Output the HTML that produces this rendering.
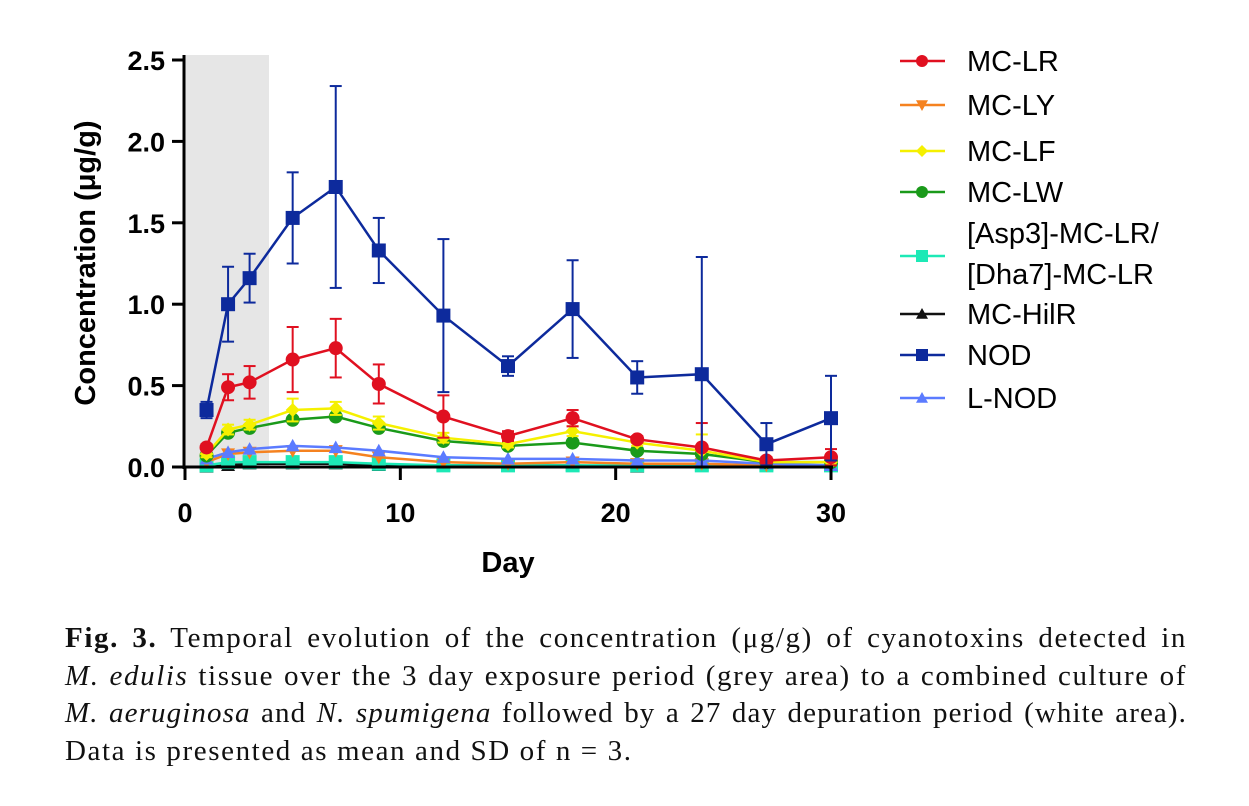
<!DOCTYPE html>
<html><head><meta charset="utf-8"><style>
body{margin:0;background:#fff;width:1249px;height:806px;overflow:hidden}
svg{display:block}
.cap{position:absolute;left:65px;top:620px;width:1122px;font-family:"Liberation Serif",serif;font-size:29px;letter-spacing:1.6px;line-height:37.5px;color:#111}
.cap div{text-align:justify;text-align-last:justify;white-space:nowrap}
.cap div.l3{letter-spacing:1.1px}
.cap div.last{text-align-last:left}
</style></head><body>
<svg id="chart" width="1249" height="620" xmlns="http://www.w3.org/2000/svg" font-family="Liberation Sans, sans-serif"></svg>
<div class="cap">
<div><b>Fig. 3.</b> Temporal evolution of the concentration (μg/g) of cyanotoxins detected in</div>
<div><i>M. edulis</i> tissue over the 3 day exposure period (grey area) to a combined culture of</div>
<div class="l3"><i>M. aeruginosa</i> and <i>N. spumigena</i> followed by a 27 day depuration period (white area).</div>
<div class="last">Data is presented as mean and SD of n = 3.</div>
</div>
<script>
const days=[1,2,3,5,7,9,12,15,18,21,24,27,30];
const xTicks=[0,10,20,30];
const yTicks=[0,0.5,1.0,1.5,2.0,2.5];
const seriesNames=["MC-LR","MC-LY","MC-LF","MC-LW","[Asp3]-MC-LR/[Dha7]-MC-LR","MC-HilR","NOD","L-NOD"];
const mcLR=[0.12,0.49,0.52,0.66,0.73,0.51,0.31,0.19,0.30,0.17,0.12,0.04,0.06];
const mcLRsd=[0.02,0.08,0.1,0.2,0.18,0.12,0.13,0.03,0.05,0.02,0.15,0.02,0.05];
const mcLY=[0.03,0.08,0.09,0.10,0.10,0.06,0.03,0.02,0.03,0.02,0.02,0.01,0.01];
const mcLF=[0.08,0.23,0.26,0.35,0.36,0.27,0.18,0.14,0.22,0.15,0.10,0.03,0.03];
const mcLFsd=[0.02,0.03,0.03,0.07,0.04,0.04,0.03,0.02,0.03,0.02,0.1,0.01,0.02];
const mcLW=[0.07,0.21,0.24,0.29,0.31,0.24,0.16,0.13,0.15,0.10,0.08,0.03,0.03];
const asp3=[0.01,0.03,0.03,0.03,0.03,0.02,0.01,0.01,0.01,0.01,0.01,0.01,0.01];
const hilR=[0.00,0.01,0.02,0.02,0.02,0.01,0.01,0.01,0.01,0.00,0.01,0.01,0.01];
const nod=[0.35,1.00,1.16,1.53,1.72,1.33,0.93,0.62,0.97,0.55,0.57,0.14,0.30];
const nodSd=[0.05,0.23,0.15,0.28,0.62,0.2,0.47,0.06,0.3,0.1,0.72,0.13,0.26];
const lNod=[0.05,0.09,0.11,0.13,0.12,0.10,0.06,0.05,0.05,0.04,0.04,0.02,0.01];

const NS="http://www.w3.org/2000/svg",svg=document.getElementById('chart');
const X0=185,X1=831,Y0=467,Y1=60;
const xs=d=>X0+(X1-X0)*d/30, ys=v=>Y0-(Y0-Y1)*v/2.5;
function mk(t,a,p){const e=document.createElementNS(NS,t);for(const k in a)e.setAttribute(k,a[k]);(p||svg).appendChild(e);return e;}
const band=mk('rect',{x:xs(0),y:55,width:xs(3.9)-xs(0),height:Y0-55,fill:'#e6e6e6'});


function marker(type,x,y,c,r,g){
 if(type==='circle')return mk('circle',{cx:x,cy:y,r:r,fill:c},g);
 if(type==='square')return mk('rect',{x:x-r,y:y-r,width:2*r,height:2*r,fill:c},g);
 if(type==='tri')return mk('polygon',{points:`${x},${y-r} ${x-r},${y+r*0.8} ${x+r},${y+r*0.8}`,fill:c},g);
 if(type==='tridown')return mk('polygon',{points:`${x},${y+r} ${x-r},${y-r*0.8} ${x+r},${y-r*0.8}`,fill:c},g);
 if(type==='diamond')return mk('polygon',{points:`${x},${y-r} ${x-r},${y} ${x},${y+r} ${x+r},${y}`,fill:c},g);
}
const defs=[
 {vals:hilR,sd:null,c:'#111',m:'tri',name:'mc-hilr'},
 {vals:asp3,sd:null,c:'#1de9b6',m:'square',name:'asp3-mc-lr'},
 {vals:mcLY,sd:null,c:'#f58220',m:'tridown',name:'mc-ly'},
 {vals:lNod,sd:null,c:'#5b7bff',m:'tri',name:'l-nod'},
 {vals:mcLW,sd:null,c:'#1a9a1a',m:'circle',name:'mc-lw'},
 {vals:mcLF,sd:mcLFsd,c:'#f5f000',m:'diamond',name:'mc-lf'},
 {vals:mcLR,sd:mcLRsd,c:'#e01020',m:'circle',name:'mc-lr'},
 {vals:nod,sd:nodSd,c:'#0d2a9c',m:'square',name:'nod'}];
defs.forEach(s=>{
 const g=mk('g',{});
 
 
 if(s.sd)s.vals.forEach((v,i)=>{const x=xs(days[i]);
  mk('line',{x1:x,x2:x,y1:ys(v+s.sd[i]),y2:ys(Math.max(0,v-s.sd[i])),stroke:s.c,'stroke-width':2},g);
  [v+s.sd[i],Math.max(0,v-s.sd[i])].forEach(w=>mk('line',{x1:x-6,x2:x+6,y1:ys(w),y2:ys(w),stroke:s.c,'stroke-width':2},g));});
 mk('polyline',{points:s.vals.map((v,i)=>xs(days[i])+','+ys(v)).join(' '),fill:'none',stroke:s.c,'stroke-width':2.5},g);
 s.vals.forEach((v,i)=>{const p=marker(s.m,xs(days[i]),ys(v),s.c,7,g);
  
  });
});
const ax=mk('g',{});


mk('line',{x1:X0-1,x2:X0-1,y1:55,y2:Y0+2,stroke:'#000','stroke-width':3},ax);
mk('line',{x1:X0-2,x2:X1+2,y1:Y0,y2:Y0,stroke:'#000','stroke-width':3},ax);
yTicks.forEach(v=>{const y=ys(v);
 mk('line',{x1:X0-13,x2:X0,y1:y,y2:y,stroke:'#000','stroke-width':3},ax);
 const t=mk('text',{x:X0-20,y:y+10,'text-anchor':'end','font-size':27,'font-weight':'bold'},ax);t.textContent=v.toFixed(1);
 
 });
xTicks.forEach(d=>{const x=xs(d);
 mk('line',{x1:x,x2:x,y1:Y0,y2:Y0+13,stroke:'#000','stroke-width':3},ax);
 const t=mk('text',{x:x,y:522,'text-anchor':'middle','font-size':27,'font-weight':'bold'},ax);t.textContent=d;
 
 });
const xt=mk('text',{x:508,y:572,'text-anchor':'middle','font-size':29,'font-weight':'bold'});xt.textContent='Day';


const yt=mk('text',{x:0,y:0,transform:'translate(95,263) rotate(-90)','text-anchor':'middle','font-size':29,'font-weight':'bold'});yt.textContent='Concentration (μg/g)';


const leg=[['MC-LR','#e01020','circle',61],['MC-LY','#f58220','tridown',105],['MC-LF','#f5f000','diamond',151],['MC-LW','#1a9a1a','circle',192],['[Asp3]-MC-LR/','#1de9b6','square',256],['MC-HilR','#111','tri',314],['NOD','#0d2a9c','square',355],['L-NOD','#5b7bff','tri',398]];
leg.forEach((l,i)=>{const g=mk('g',{});
 
 
 mk('line',{x1:900,x2:945,y1:l[3],y2:l[3],stroke:l[1],'stroke-width':2.5},g);
 marker(l[2],922,l[3],l[1],6,g);
 if(i===4){const t1=mk('text',{x:967,y:243,'font-size':29},g);t1.textContent='[Asp3]-MC-LR/';
  const t2=mk('text',{x:967,y:284,'font-size':29},g);t2.textContent='[Dha7]-MC-LR';}
 else{const t=mk('text',{x:967,y:l[3]+10,'font-size':29},g);t.textContent=l[0];}
});
</script>
</body></html>
